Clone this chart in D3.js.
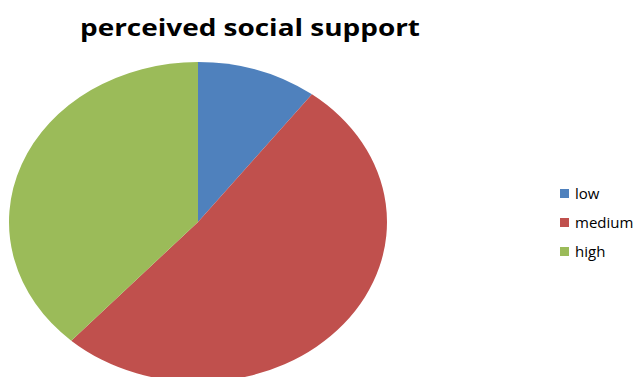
<!DOCTYPE html>
<html>
<head>
<meta charset="utf-8">
<script src="https://cdn.jsdelivr.net/npm/d3@7"></script>
<style>
  body { margin: 0; background: #fff; }
  svg { display: block; }
</style>
</head>
<body>
<script>
const w = 637;
const h = 377;

// slice data (percent)
const categories = ["low", "medium", "high"];
const values = [10.3, 51.4, 38.3];
const colors = ["#4F81BD", "#C0504D", "#9BBB59"];

const svg = d3.select("body")
    .append("svg")
    .attr("width", w)
    .attr("height", h);

// title
svg.append("text")
    .attr("x", 250)
    .attr("y", 36)
    .attr("text-anchor", "middle")
    .style("font-family", "'Open Sans', sans-serif")
    .style("font-weight", "bold")
    .style("font-size", "24px")
    .attr("textLength", 340)
    .attr("lengthAdjust", "spacingAndGlyphs")
    .text("perceived social support");

// pie drawn as a circle, then stretched into the ellipse
const cx = 198, cy = 222;
const rx = 189, ry = 160;

const pie = d3.pie().sort(null).value(d => d);
const arc = d3.arc().innerRadius(0).outerRadius(ry);

const g = svg.append("g")
    .attr("transform", "translate(" + cx + "," + cy + ") scale(" + (rx / ry) + ",1)");

g.selectAll("path")
    .data(pie(values))
    .enter()
    .append("path")
    .attr("d", arc)
    .attr("fill", (d, i) => colors[i]);

// legend
const legend = svg.append("g")
    .attr("transform", "translate(560,189)");

const item = legend.selectAll("g")
    .data(categories)
    .enter()
    .append("g")
    .attr("transform", (d, i) => "translate(0," + (i * 29) + ")");

item.append("rect")
    .attr("width", 9)
    .attr("height", 9)
    .attr("fill", (d, i) => colors[i]);

item.append("text")
    .attr("x", 15)
    .attr("y", 10)
    .style("font-family", "'Open Sans', sans-serif")
    .style("font-size", "15px")
    .style("fill", "#000")
    .text(d => d);
</script>
</body>
</html>
